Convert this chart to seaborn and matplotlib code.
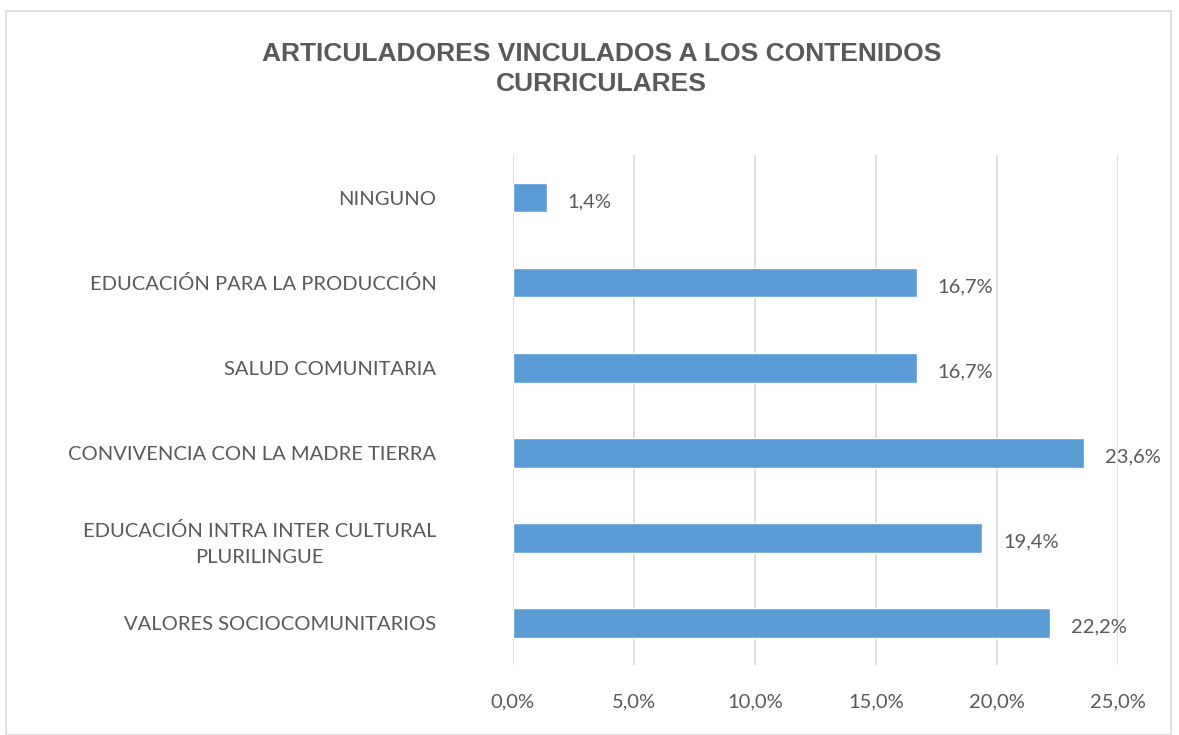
import matplotlib
matplotlib.use("Agg")
import matplotlib.pyplot as plt
import matplotlib.patches as mpatches
from matplotlib.ticker import FuncFormatter
import seaborn as sns
import pandas as pd

categorias = [
    "NINGUNO",
    "EDUCACIÓN PARA LA PRODUCCIÓN",
    "SALUD COMUNITARIA",
    "CONVIVENCIA CON LA MADRE TIERRA",
    "EDUCACIÓN INTRA INTER CULTURAL\nPLURILINGUE",
    "VALORES SOCIOCOMUNITARIOS",
]
porcentajes = [1.4, 16.7, 16.7, 23.6, 19.4, 22.2]
ticks = [0, 5, 10, 15, 20, 25]

titulo = "ARTICULADORES VINCULADOS A LOS CONTENIDOS\nCURRICULARES"

GRIS = "#595959"
AZUL = "#5B9BD5"

sns.set_style("white")
plt.rcParams["font.family"] = ["Lato", "DejaVu Sans"]

df = pd.DataFrame({"categoria": categorias, "valor": porcentajes})

fig = plt.figure(figsize=(11.79, 7.35), dpi=100)
ax = fig.add_axes([0.435, 0.095, 0.948 - 0.435, 0.789 - 0.095])

sns.barplot(data=df, y="categoria", x="valor", color=AZUL, width=0.35,
            saturation=1, ax=ax, zorder=3)

ax.set_xlim(0, 25)
ax.set_xticks(ticks)
ax.xaxis.set_major_formatter(FuncFormatter(lambda v, p: f"{v:.1f}%".replace(".", ",")))
ax.grid(axis="x", color="#D9D9D9", linewidth=1.2, zorder=0)
ax.set_xlabel("")
ax.set_ylabel("")
for s in ax.spines.values():
    s.set_visible(False)

ax.tick_params(axis="x", length=0, pad=20, labelsize=14.5, labelcolor=GRIS)
ax.tick_params(axis="y", length=0, pad=55, labelsize=14.5, labelcolor=GRIS)
ax.set_yticks(range(len(categorias)), labels=categorias,
              multialignment="center", linespacing=1.65)

for i, v in enumerate(porcentajes):
    ax.annotate(f"{v:.1f}%".replace(".", ","), xy=(v, i), xytext=(15, -3),
                textcoords="offset points", ha="left", va="center",
                fontsize=14.5, color=GRIS)

fig.text(0.51, 0.906, titulo, ha="center", va="center", fontsize=19,
         fontweight="bold", color=GRIS, family=["Liberation Sans", "DejaVu Sans"],
         linespacing=1.3)

# marco del gráfico
fig.patches.append(mpatches.Rectangle((0.005, 0.0), 0.988, 0.985, transform=fig.transFigure,
                                      fill=False, edgecolor="#D9D9D9", linewidth=1.2))

fig.savefig("out.png", dpi=100, facecolor="white")
